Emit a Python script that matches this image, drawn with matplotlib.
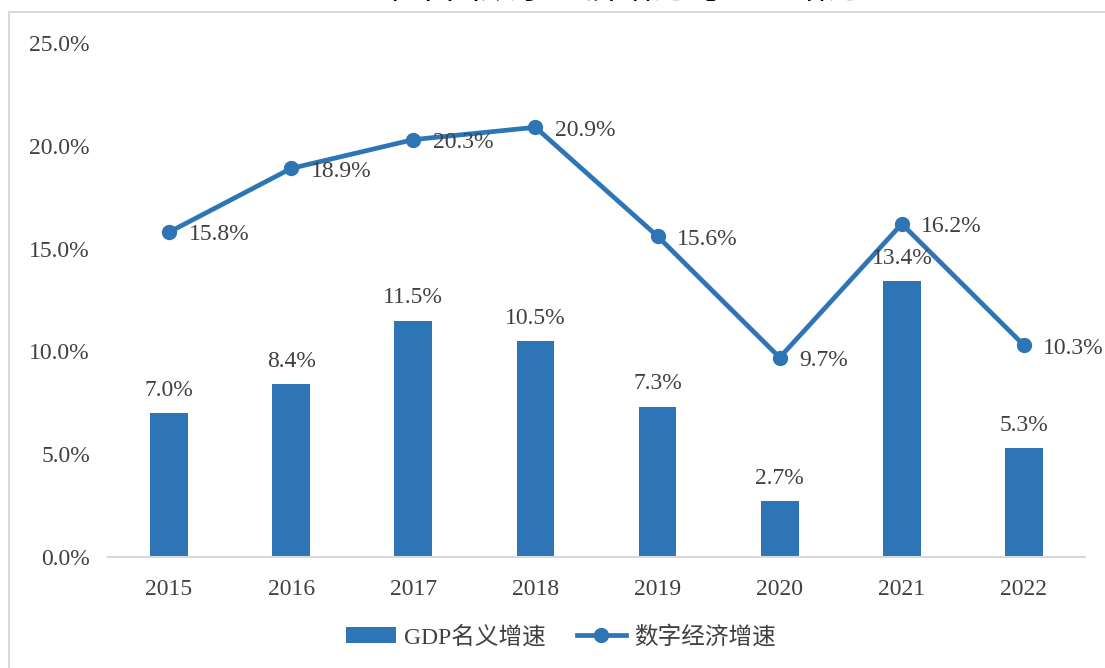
import matplotlib.pyplot as plt
from matplotlib.patches import Rectangle
from matplotlib.lines import Line2D
from matplotlib.patches import Patch

years = ['2015', '2016', '2017', '2018', '2019', '2020', '2021', '2022']
gdp_growth = [7.0, 8.4, 11.5, 10.5, 7.3, 2.7, 13.4, 5.3]
digital_growth = [15.8, 18.9, 20.3, 20.9, 15.6, 9.7, 16.2, 10.3]
yticks = [0, 5, 10, 15, 20, 25]

blue = '#2E75B6'
txt = '#404040'
fonts = ['Liberation Serif', 'Noto Sans CJK SC']
plt.rcParams['font.family'] = fonts
fs = 17

fig = plt.figure(figsize=(11.05, 6.68), dpi=100)
ax = fig.add_axes([108 / 1105, 111 / 668, 977 / 1105, 514 / 668])

x = list(range(len(years)))
ax.bar(x, gdp_growth, width=0.31, color=blue, zorder=2)
ax.plot(x, digital_growth, color=blue, lw=3.4, marker='o', markersize=10, zorder=3)

for i, v in enumerate(gdp_growth):
    ax.annotate(f'{v:.1f}%', (i, v), xytext=(0, 9), textcoords='offset points',
                ha='center', va='bottom', fontsize=fs, color=txt)
for i, v in enumerate(digital_growth):
    ax.annotate(f'{v:.1f}%', (i, v), xytext=(14, -2), textcoords='offset points',
                ha='left', va='center', fontsize=fs, color=txt, annotation_clip=False)

ax.set_xlim(-0.5, len(years) - 0.5)
ax.set_ylim(0, 25)
ax.set_xticks(x)
ax.set_xticklabels(years)
ax.set_yticks(yticks)
ax.set_yticklabels([f'{t:.1f}%' for t in yticks])
ax.tick_params(axis='both', length=0, labelsize=fs, colors=txt)
ax.tick_params(axis='x', pad=16)
ax.tick_params(axis='y', pad=13)
for s in ['top', 'right', 'left']:
    ax.spines[s].set_visible(False)
ax.spines['bottom'].set_color('#D9D9D9')
ax.spines['bottom'].set_linewidth(1.5)

handles = [Patch(facecolor=blue),
           Line2D([0], [0], color=blue, lw=3.4, marker='o', markersize=10)]
fig.legend(handles, ['GDP名义增速', '数字经济增速'], loc='center',
           bbox_to_anchor=(0.508, 31 / 668), ncol=2, frameon=False,
           fontsize=fs, labelcolor=txt, handlelength=2.1, columnspacing=1.3,
           handletextpad=0.35)

# outer frame of the original chart box
fig.add_artist(Rectangle((9 / 1105, -0.05), 1.2, 1 - 12 / 668 + 0.05,
                         transform=fig.transFigure, fill=False,
                         edgecolor='#D9D9D9', lw=1.5))
# title cropped off the top edge
fig.text(0.486, 1 + 2.5 / 668, '2015-2022年中国数字经济增速与GDP增速',
         ha='center', va='baseline', fontsize=25, color='black',
         family=['Noto Sans CJK SC'])

fig.savefig('out.png', dpi=100)
